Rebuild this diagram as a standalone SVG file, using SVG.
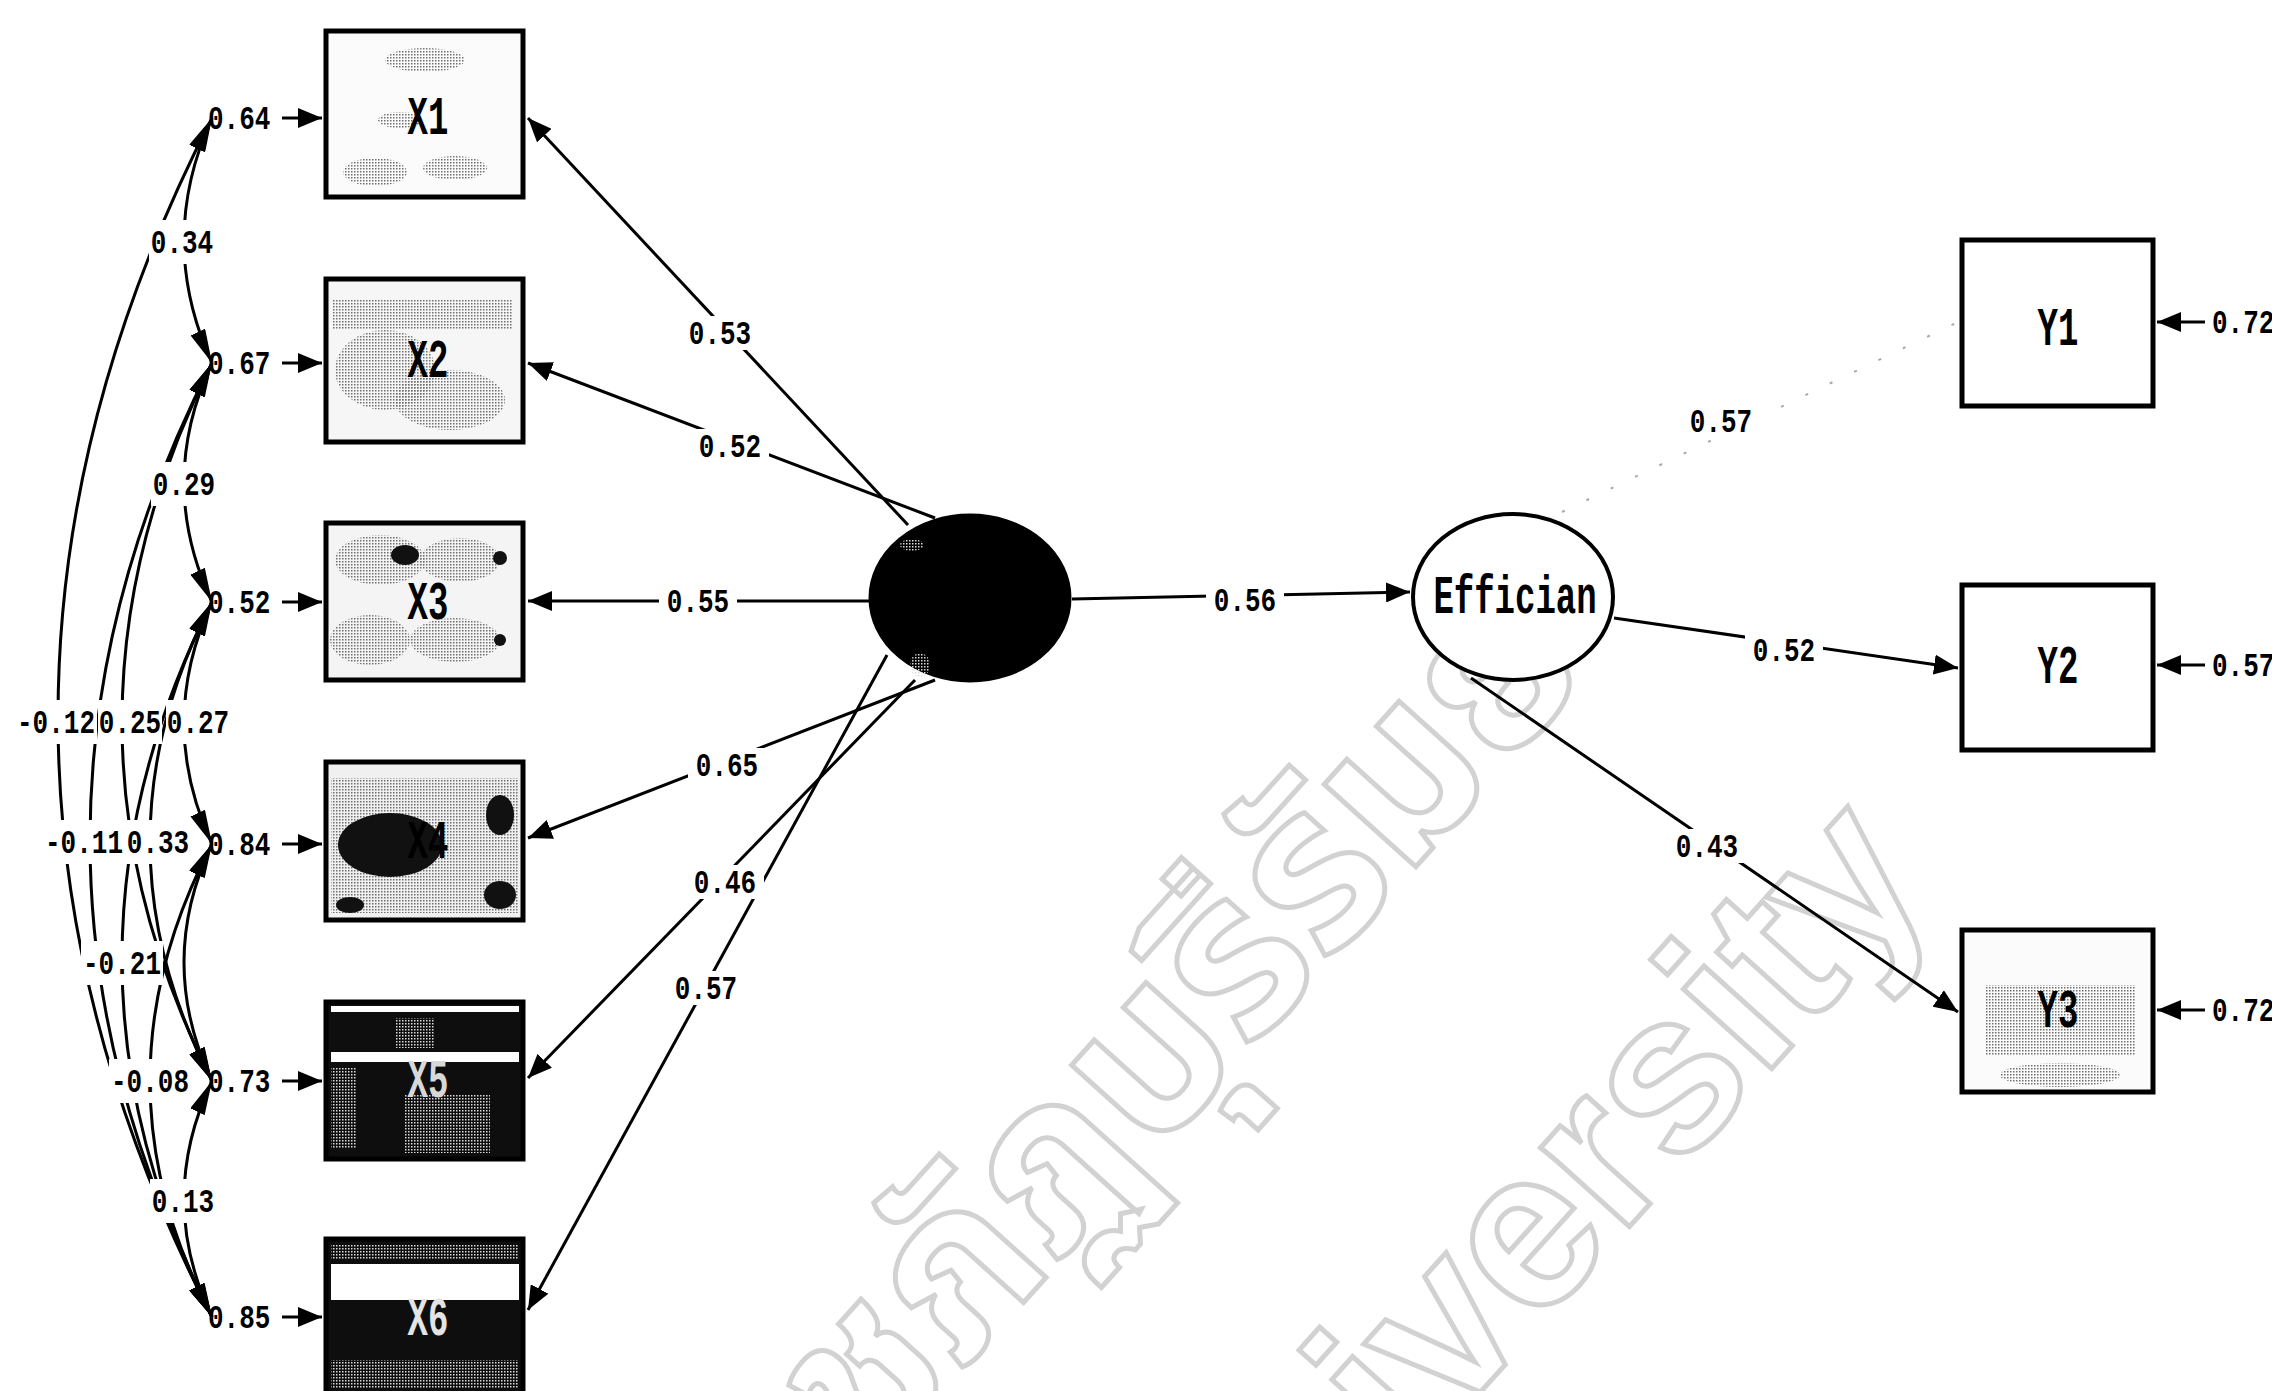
<svg xmlns="http://www.w3.org/2000/svg" width="2272" height="1391" viewBox="0 0 2272 1391">
<style>
  .bg{fill:#ffffff}
  .wm{fill:none;stroke:#d2d2d2;stroke-width:5;font-weight:bold;font-size:225px}
  .wmth{font-family:"Noto Sans Thai","Noto Sans","DejaVu Sans",sans-serif}
  .wmen{font-family:"Liberation Sans",Arial,sans-serif}
  .ln{fill:none;stroke:#000;stroke-width:3}
  .arc{fill:none;stroke:#000;stroke-width:3;marker-start:url(#ahc);marker-end:url(#ahc)}
  .ld{marker-end:url(#ah)}
  .faint{fill:none;stroke:#a8a8a8;stroke-width:2;stroke-dasharray:3 24}
  .box{stroke:#000;stroke-width:5}
  .num{font-family:"Liberation Mono","DejaVu Sans Mono",monospace;font-weight:bold;font-size:26px;fill:#000;transform-box:fill-box;transform-origin:center;transform:scaleY(1.3)}
  .mid{text-anchor:middle}
  .nl{font-family:"Liberation Mono","DejaVu Sans Mono",monospace;font-weight:bold;font-size:34px;text-anchor:middle;fill:#000;transform-box:fill-box;transform-origin:center;transform:scaleY(1.6)}
  .lbg{fill:#fff}
</style>
<defs>
  <marker id="ah" viewBox="0 0 24 20" refX="24" refY="10" markerWidth="24" markerHeight="20" markerUnits="userSpaceOnUse" orient="auto"><path d="M0,0 L24,10 L0,20 z" fill="#000"/></marker>
  <marker id="ahc" viewBox="0 0 34 16" refX="34" refY="8" markerWidth="34" markerHeight="16" markerUnits="userSpaceOnUse" orient="auto-start-reverse"><path d="M0,0 L34,8 L0,16 z" fill="#000"/></marker>
  <pattern id="sp" width="3" height="3" patternUnits="userSpaceOnUse"><rect width="1.5" height="1.5" fill="#6e6e6e"/></pattern>
  <pattern id="spw" width="3" height="3" patternUnits="userSpaceOnUse"><rect width="1.5" height="1.5" fill="#dcdcdc"/></pattern>
</defs>
<rect class="bg" x="0" y="0" width="2272" height="1391"/>

<g id="watermark">
  <text class="wm wmth" text-anchor="end" transform="translate(1595,668) rotate(-48)">มหาวิทยาลัยราชภัฏบุรีรัมย์</text>
  <text class="wm wmen" text-anchor="end" transform="translate(1937,885) rotate(-48)">Buriram Rajabhat University</text>
</g>

<g id="connectors">
  <!-- covariance arcs between error terms -->
  <path class="arc" d="M212,118 Q156,240.5 212,363"/>
  <path class="arc" d="M212,363 Q156,482.5 212,602"/>
  <path class="arc" d="M212,602 Q156,723 212,844"/>
  <path class="arc" d="M212,844 Q156,962.5 212,1081"/>
  <path class="arc" d="M212,1081 Q156,1199 212,1317"/>
  <path class="arc" d="M212,602 Q88,841.5 212,1081"/>
  <path class="arc" d="M212,844 Q88,1080.5 212,1317"/>
  <path class="arc" d="M212,363 Q32,722 212,1081"/>
  <path class="arc" d="M212,602 Q32,959.5 212,1317"/>
  <path class="arc" d="M212,363 Q-32,840 212,1317"/>
  <path class="arc" d="M212,118 Q-96,717.5 212,1317"/>
  <!-- error arrows into X boxes -->
  <line class="ln ld" x1="282" y1="118" x2="322" y2="118"/>
  <line class="ln ld" x1="282" y1="363" x2="322" y2="363"/>
  <line class="ln ld" x1="282" y1="602" x2="322" y2="602"/>
  <line class="ln ld" x1="282" y1="844" x2="322" y2="844"/>
  <line class="ln ld" x1="282" y1="1081" x2="322" y2="1081"/>
  <line class="ln ld" x1="282" y1="1317" x2="322" y2="1317"/>
  <!-- loadings of the latent on X1..X6 -->
  <line class="ln ld" x1="908" y1="525" x2="528" y2="118"/>
  <line class="ln ld" x1="935" y1="518" x2="528" y2="363"/>
  <line class="ln ld" x1="870" y1="601" x2="528" y2="601"/>
  <line class="ln ld" x1="935" y1="680" x2="528" y2="838"/>
  <line class="ln ld" x1="915" y1="680" x2="528" y2="1078"/>
  <line class="ln ld" x1="887" y1="655" x2="528" y2="1310"/>
  <!-- latent to Effician -->
  <line class="ln ld" x1="1072" y1="599" x2="1410" y2="592"/>
  <!-- Effician to Y -->
  <line class="faint" x1="1562" y1="512" x2="1958" y2="322"/>
  <line class="ln ld" x1="1614" y1="618" x2="1958" y2="668"/>
  <line class="ln ld" x1="1471" y1="678" x2="1958" y2="1012"/>
  <!-- error arrows into Y boxes -->
  <line class="ln ld" x1="2205" y1="322" x2="2157" y2="322"/>
  <line class="ln ld" x1="2205" y1="665" x2="2157" y2="665"/>
  <line class="ln ld" x1="2205" y1="1010" x2="2157" y2="1010"/>
</g>

<g id="edge-labels">
  <g id="label-bgs">
    <rect class="lbg" x="681" y="316" width="78" height="34"/>
    <rect class="lbg" x="691" y="429" width="78" height="34"/>
    <rect class="lbg" x="659" y="584" width="78" height="34"/>
    <rect class="lbg" x="688" y="748" width="78" height="34"/>
    <rect class="lbg" x="686" y="865" width="78" height="34"/>
    <rect class="lbg" x="667" y="971" width="78" height="34"/>
    <rect class="lbg" x="1206" y="583" width="78" height="34"/>
    <rect class="lbg" x="1682" y="404" width="78" height="34"/>
    <rect class="lbg" x="1745" y="633" width="78" height="34"/>
    <rect class="lbg" x="1668" y="829" width="78" height="34"/>
    <rect class="lbg" x="149" y="220" width="66" height="44"/>
    <rect class="lbg" x="151" y="462" width="66" height="44"/>
    <rect class="lbg" x="15" y="700" width="82" height="44"/>
    <rect class="lbg" x="98" y="700" width="64" height="44"/>
    <rect class="lbg" x="166" y="700" width="64" height="44"/>
    <rect class="lbg" x="43" y="820" width="82" height="44"/>
    <rect class="lbg" x="126" y="820" width="64" height="44"/>
    <rect class="lbg" x="81" y="941" width="82" height="44"/>
    <rect class="lbg" x="109" y="1059" width="82" height="44"/>
    <rect class="lbg" x="150" y="1179" width="66" height="44"/>
  </g>
  <text class="num mid" x="720" y="342">0.53</text>
  <text class="num mid" x="730" y="455">0.52</text>
  <text class="num mid" x="698" y="610">0.55</text>
  <text class="num mid" x="727" y="774">0.65</text>
  <text class="num mid" x="725" y="891">0.46</text>
  <text class="num mid" x="706" y="997">0.57</text>
  <text class="num mid" x="1245" y="609">0.56</text>
  <text class="num mid" x="1721" y="430">0.57</text>
  <text class="num mid" x="1784" y="659">0.52</text>
  <text class="num mid" x="1707" y="855">0.43</text>
  <text class="num mid" x="182" y="251">0.34</text>
  <text class="num mid" x="184" y="493">0.29</text>
  <text class="num mid" x="56" y="731">-0.12</text>
  <text class="num mid" x="130" y="731">0.25</text>
  <text class="num mid" x="198" y="731">0.27</text>
  <text class="num mid" x="84" y="851">-0.11</text>
  <text class="num mid" x="158" y="851">0.33</text>
  <text class="num mid" x="122" y="972">-0.21</text>
  <text class="num mid" x="150" y="1090">-0.08</text>
  <text class="num mid" x="183" y="1210">0.13</text>
</g>

<g id="errors">
  <text class="num" x="208" y="127">0.64</text>
  <text class="num" x="208" y="372">0.67</text>
  <text class="num" x="208" y="611">0.52</text>
  <text class="num" x="208" y="853">0.84</text>
  <text class="num" x="208" y="1090">0.73</text>
  <text class="num" x="208" y="1326">0.85</text>
  <text class="num" x="2212" y="331">0.72</text>
  <text class="num" x="2212" y="674">0.57</text>
  <text class="num" x="2212" y="1019">0.72</text>
</g>

<g id="X1">
  <rect class="box" x="326" y="31" width="197" height="166" fill="#fbfbfb"/>
  <ellipse cx="425" cy="60" rx="40" ry="12" fill="url(#sp)"/>
  <ellipse cx="375" cy="172" rx="32" ry="14" fill="url(#sp)"/>
  <ellipse cx="455" cy="168" rx="32" ry="12" fill="url(#sp)"/>
  <ellipse cx="400" cy="120" rx="22" ry="8" fill="url(#sp)"/>
  <text class="nl" x="428" y="129">X1</text>
</g>
<g id="X2">
  <rect class="box" x="326" y="279" width="197" height="163" fill="#f6f6f6"/>
  <rect x="333" y="300" width="180" height="30" fill="url(#sp)"/>
  <ellipse cx="385" cy="370" rx="50" ry="40" fill="url(#sp)"/>
  <ellipse cx="450" cy="400" rx="55" ry="30" fill="url(#sp)"/>
  <text class="nl" x="428" y="372">X2</text>
</g>
<g id="X3">
  <rect class="box" x="326" y="523" width="197" height="157" fill="#f4f4f4"/>
  <ellipse cx="380" cy="560" rx="45" ry="25" fill="url(#sp)"/>
  <ellipse cx="460" cy="560" rx="40" ry="22" fill="url(#sp)"/>
  <ellipse cx="370" cy="640" rx="40" ry="25" fill="url(#sp)"/>
  <ellipse cx="455" cy="640" rx="45" ry="22" fill="url(#sp)"/>
  <ellipse cx="405" cy="555" rx="14" ry="10" fill="#111"/>
  <circle cx="500" cy="558" r="7" fill="#111"/>
  <circle cx="500" cy="640" r="6" fill="#111"/>
  <text class="nl" x="428" y="614">X3</text>
</g>
<g id="X4">
  <rect class="box" x="326" y="762" width="197" height="158" fill="#f0f0f0"/>
  <rect x="331" y="778" width="188" height="135" fill="url(#sp)"/>
  <ellipse cx="390" cy="845" rx="52" ry="32" fill="#111"/>
  <ellipse cx="500" cy="815" rx="14" ry="20" fill="#111"/>
  <ellipse cx="500" cy="895" rx="16" ry="14" fill="#111"/>
  <ellipse cx="350" cy="905" rx="14" ry="8" fill="#111"/>
  <text class="nl" x="428" y="853">X4</text>
</g>
<g id="X5">
  <rect class="box" x="326" y="1002" width="197" height="157" fill="#0e0e0e"/>
  <rect x="331" y="1006" width="188" height="6" fill="#fff"/>
  <rect x="331" y="1052" width="188" height="10" fill="#fff"/>
  <rect x="331" y="1068" width="26" height="80" fill="url(#spw)"/>
  <rect x="405" y="1095" width="85" height="58" fill="url(#spw)"/>
  <rect x="395" y="1018" width="40" height="30" fill="url(#spw)"/>
  <text class="nl" x="428" y="1092" style="fill:#d8d8d8">X5</text>
</g>
<g id="X6">
  <rect class="box" x="326" y="1239" width="197" height="170" fill="#0e0e0e"/>
  <rect x="331" y="1244" width="188" height="16" fill="url(#spw)"/>
  <rect x="331" y="1264" width="188" height="36" fill="#fff"/>
  <rect x="331" y="1360" width="188" height="28" fill="url(#spw)"/>
  <text class="nl" x="428" y="1330" style="fill:#e4e4e4">X6</text>
</g>

<g id="Ksi">
  <ellipse cx="970" cy="598" rx="100" ry="83" fill="#000" stroke="#000" stroke-width="3"/>
  <ellipse cx="920" cy="665" rx="10" ry="12" fill="url(#spw)"/>
  <ellipse cx="912" cy="545" rx="12" ry="6" fill="url(#spw)"/>
</g>

<g id="Effician">
  <ellipse cx="1513" cy="597" rx="100" ry="83" fill="#fff" stroke="#000" stroke-width="4"/>
  <text class="nl" x="1515" y="608">Effician</text>
</g>

<g id="Y1">
  <rect class="box" x="1962" y="240" width="191" height="166" fill="#fff"/>
  <text class="nl" x="2058" y="340">Y1</text>
</g>
<g id="Y2">
  <rect class="box" x="1962" y="585" width="191" height="165" fill="#fff"/>
  <text class="nl" x="2058" y="678">Y2</text>
</g>
<g id="Y3">
  <rect class="box" x="1962" y="930" width="191" height="162" fill="#fbfbfb"/>
  <rect x="1985" y="985" width="150" height="70" fill="url(#sp)"/>
  <ellipse cx="2060" cy="1075" rx="60" ry="12" fill="url(#sp)"/>
  <text class="nl" x="2058" y="1022">Y3</text>
</g>
</svg>
